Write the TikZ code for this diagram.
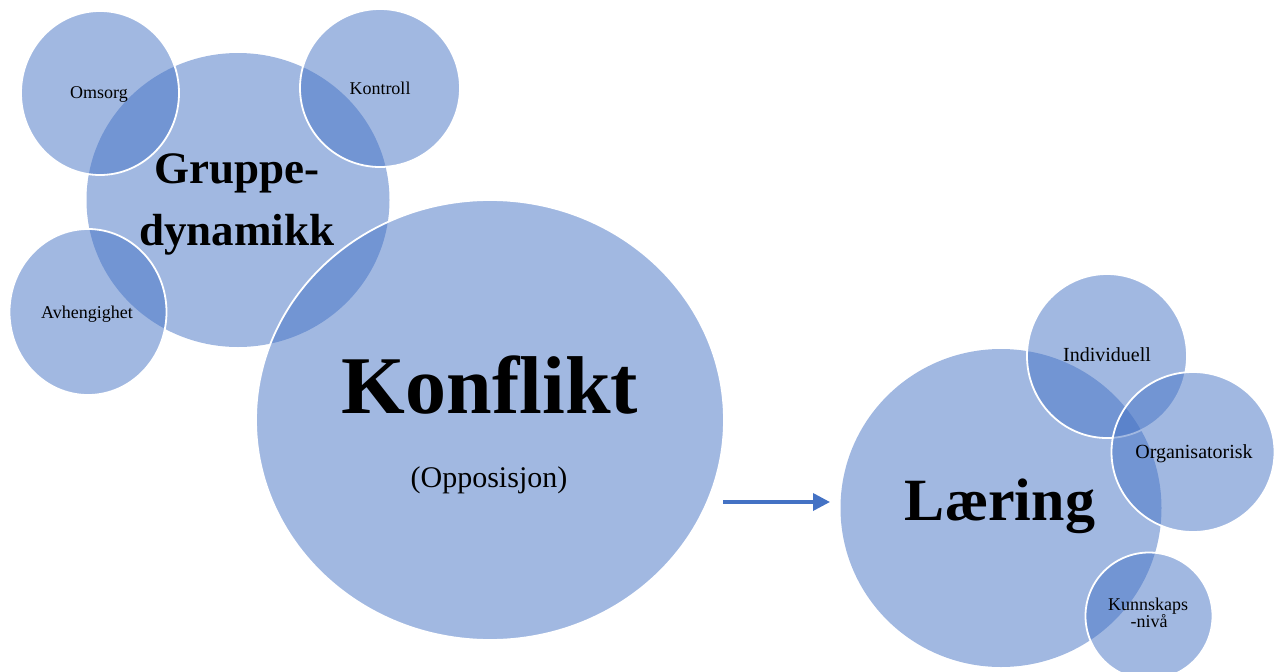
\documentclass[tikz,border=0pt]{standalone}
\usepackage{fontspec}
\setmainfont{Liberation Serif}
\usetikzlibrary{arrows.meta,shapes.geometric}
\definecolor{bub}{HTML}{4472C4}
\begin{document}
\begin{tikzpicture}[x=1pt,y=-1pt,
  bubble/.style={ellipse, inner sep=0pt, outer sep=0pt, fill=bub, fill opacity=0.5, draw=none},
  rim/.style={bubble, draw=white, draw opacity=1, line width=1.8pt},
  lbl/.style={anchor=base, inner sep=0pt, text=black},
  small/.style={lbl, font=\fontsize{18}{18}\selectfont},
  mid/.style={lbl, font=\fontsize{20}{20}\selectfont},
  conn/.style={line width=3.5pt, draw=bub, -{Triangle[length=17pt,width=17pt]}}
]
\useasboundingbox (0,0) rectangle (1278,672);
% left cluster
\node[bubble, minimum width=303pt, minimum height=294pt] (gruppe) at (238,200) {};
\node[rim, minimum width=158pt, minimum height=164pt] (omsorg) at (100,93) {};
\node[rim, minimum width=160pt, minimum height=158pt] (kontroll) at (380,88) {};
\node[rim, minimum width=157pt, minimum height=166pt] (avh) at (88,312) {};
\node[rim, minimum width=468pt, minimum height=440pt] (konflikt) at (490,420) {};
% right cluster
\node[bubble, minimum width=321pt, minimum height=318pt] (laering) at (1001,508) {};
\node[rim, minimum width=160pt, minimum height=164pt] (indiv) at (1107,356) {};
\node[rim, minimum width=163pt, minimum height=160pt] (org) at (1193,452) {};
\node[rim, minimum width=127pt, minimum height=127pt] (kunn) at (1149,616) {};
% texts
\node[small] (tomsorg) at (99,98) {Omsorg};
\node[small] (tkontroll) at (380,94) {Kontroll};
\node[small] (tavh) at (87,318) {Avhengighet};
\node[lbl, font=\fontsize{45}{45}\selectfont\bfseries] (tgr1) at (237,183) {Gruppe-};
\node[lbl, font=\fontsize{45}{45}\selectfont\bfseries] (tgr2) at (237,245) {dynamikk};
\node[lbl, font=\fontsize{82}{82}\selectfont\bfseries] (tkonf) at (490,413) {Konflikt};
\node[lbl, font=\fontsize{30}{30}\selectfont] (topp) at (489,487) {(Opposisjon)};
\node[lbl, font=\fontsize{60}{60}\selectfont\bfseries] (tlaer) at (1000,520) {Læring};
\node[mid] (tindiv) at (1107,361) {Individuell};
\node[mid] (torg) at (1194,458) {Organisatorisk};
\node[small] (tkunn1) at (1148,610) {Kunnskaps};
\node[small] (tkunn2) at (1149,627) {-nivå};
% arrow
\coordinate (arrS) at (723,502);
\coordinate (arrE) at (830,502);
\draw[conn] (arrS) -- (arrE);
\end{tikzpicture}
\end{document}
